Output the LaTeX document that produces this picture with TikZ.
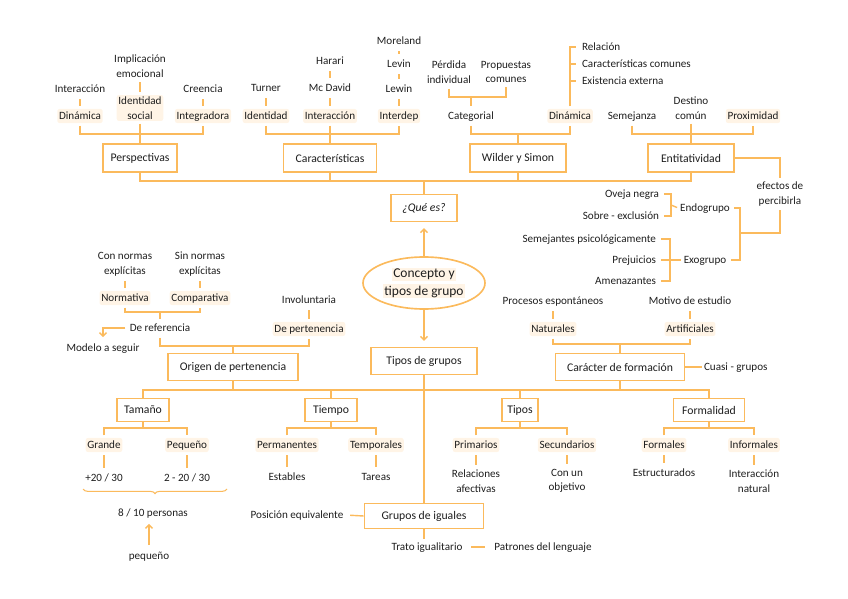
\documentclass[tikz,border=0pt]{standalone}
\usepackage{fontspec}
\setmainfont{Carlito}
\usetikzlibrary{arrows.meta,decorations.pathreplacing,shapes.geometric}
\definecolor{mapline}{RGB}{251,186,92}
\definecolor{mapmark}{RGB}{255,244,230}
\definecolor{maptext}{RGB}{30,30,30}
\setlength{\fboxsep}{1pt}

\begin{document}
\begin{tikzpicture}[
  x=0.03cm, y=-0.03cm,
  every node/.style={text=maptext,font=\fontsize{9.5}{12.5}\selectfont,inner sep=1.5pt},
  one/.style={text height=1.5ex,text depth=.4ex},
  two/.style={align=center},
  hl/.style={fill=mapmark,rounded corners=2pt},
  box/.style={draw=mapline,line width=1.4pt,fill=white,font=\fontsize{10}{12}\selectfont,
    inner xsep=2pt,minimum height=0.84cm},
  conn/.style={draw=mapline,line width=1.2pt},
  joint/.style={conn,shorten <=2.5pt,shorten >=2.5pt},
  brk/.style={conn,shorten <=2pt,shorten >=2pt},
  arr/.style={conn,-{Straight Barb[length=3pt,width=6pt]}}
]
\useasboundingbox (0,0) rectangle (848,599);

% Perspectivas
\node[one] (interP) at (80,89) {Interacción};
\node[one,hl] (dinP) at (80,116) {Dinámica};
\node[two] (implic) at (140,66) {Implicación\\emocional};
\node[two,hl] (idsoc) at (140,108) {Identidad\\social};
\node[one] (creencia) at (203,89) {Creencia};
\node[one,hl] (integ) at (203,116) {Integradora};
\node[box,minimum width=2.22cm] (persp) at (140,158) {Perspectivas};
\draw[joint] (interP.south) -- (dinP.north);
\draw[joint] (implic.south) -- (idsoc.north);
\draw[joint] (creencia.south) -- (integ.north);
\coordinate (barP) at (140,134);
\draw[brk] (dinP.south) |- (barP) -| (integ.south);
\draw[conn,shorten <=2pt] (idsoc.south) -- (persp.north);

% Caracteristicas
\node[one] (turner) at (266,88) {Turner};
\node[one,hl] (identC) at (266,116) {Identidad};
\node[one] (harari) at (330,61) {Harari};
\node[one] (mcdavid) at (330,88) {Mc David};
\node[one,hl] (interC) at (330,116) {Interacción};
\node[one] (moreland) at (399,41) {Moreland};
\node[one] (levin) at (399,64) {Levin};
\node[one] (lewin) at (399,89) {Lewin};
\node[one,hl] (interdep) at (399,116) {Interdep};
\node[box,minimum width=2.79cm] (caract) at (330,158) {Características};
\draw[joint] (turner.south) -- (identC.north);
\draw[joint] (harari.south) -- (mcdavid.north);
\draw[joint] (mcdavid.south) -- (interC.north);
\draw[joint] (moreland.south) -- (levin.north);
\draw[joint] (levin.south) -- (lewin.north);
\draw[joint] (lewin.south) -- (interdep.north);
\coordinate (barC) at (330,134);
\draw[brk] (identC.south) |- (barC) -| (interdep.south);
\draw[conn,shorten <=2pt] (interC.south) -- (caract.north);

% Wilder y Simon
\node[two] (perdida) at (449,72) {Pérdida\\individual};
\node[two] (propuestas) at (506,72) {Propuestas\\comunes};
\node[one] (categ) at (471,116) {Categorial};
\node[one,hl] (dinW) at (570,116) {Dinámica};
\node[one,anchor=west] (relacion) at (580,47) {Relación};
\node[one,anchor=west] (caractcom) at (580,64) {Características comunes};
\node[one,anchor=west] (existe) at (580,81) {Existencia externa};
\node[box,minimum width=2.88cm] (wilder) at (518,158) {Wilder y Simon};
\coordinate (barCat) at (471,97);
\draw[brk,shorten <=3pt] (perdida.south) |- (barCat) -| (propuestas.south);
\draw[conn,shorten >=2pt] (barCat) -- (categ.north);
\draw[conn,shorten <=2pt,shorten >=3pt] (dinW.north) |- (relacion.west);
\draw[conn,shorten >=3pt] (dinW.north |- caractcom.west) -- (caractcom.west);
\draw[conn,shorten >=3pt] (dinW.north |- existe.west) -- (existe.west);
\coordinate (barW) at (518,134);
\draw[brk] (categ.south) |- (barW) -| (dinW.south);
\draw[conn] (barW) -- (wilder.north);

% Entitatividad
\node[one] (semej) at (632,116) {Semejanza};
\node[two] (destino) at (691,108) {Destino\\común};
\node[one,hl] (proxim) at (753,116) {Proximidad};
\node[box,minimum width=2.58cm] (entit) at (691,158) {Entitatividad};
\coordinate (barE) at (691,134);
\draw[brk] (semej.south) |- (barE) -| (proxim.south);
\draw[conn,shorten <=2pt] (destino.south) -- (entit.north);

% Que es
\coordinate (topbar) at (424,181);
\draw[conn] (persp.south) |- (topbar) -| (entit.south);
\draw[conn] (caract.south) -- (caract.south |- topbar);
\draw[conn] (wilder.south) -- (wilder.south |- topbar);
\node[box,minimum width=1.98cm,minimum height=0.81cm,font=\fontsize{10}{12}\selectfont\itshape] (quees) at (424,208) {¿Qué es?};
\draw[conn] (topbar) -- (quees.north);

% efectos de percibirla
\node[two] (efectos) at (780,194) {efectos de\\percibirla};
\node[one] (endo) at (705,208) {Endogrupo};
\node[one] (exo) at (705,260) {Exogrupo};
\draw[conn,shorten >=2pt] (entit.east) -| (efectos.north);
\coordinate (endoexo) at (740,233);
\draw[conn,shorten <=2pt] (efectos.south) |- (endoexo);
\draw[conn,shorten <=2pt,shorten >=2pt] (endo.east) -| (endoexo) |- (exo.east);
\node[one,anchor=east] (oveja) at (661,194) {Oveja negra};
\node[one,anchor=east] (sobre) at (661,216) {Sobre - exclusión};
\coordinate (endobr) at (671,205);
\draw[conn,shorten <=2.5pt,shorten >=2.5pt] (oveja.east) -| (endobr) |- (sobre.east);
\draw[conn,shorten >=1pt] (endobr) -- (endo.west);
\node[one,anchor=east] (semps) at (658,239) {Semejantes psicológicamente};
\node[one,anchor=east] (prej) at (658,260) {Prejuicios};
\node[one,anchor=east] (amen) at (658,281) {Amenazantes};
\coordinate (exobr) at (670,260);
\draw[conn,shorten <=2.5pt,shorten >=2.5pt] (semps.east) -| (exobr) |- (amen.east);
\draw[conn,shorten <=2.5pt,shorten >=1pt] (prej.east) -- (exo.west);

% centre
\node[ellipse,draw=mapline,line width=1.4pt,fill=white,minimum width=3.66cm,minimum height=1.56cm,
  inner sep=0pt,align=center,font=\fontsize{11.5}{15}\selectfont] (concepto) at (424,283)
  {\colorbox{mapmark}{Concepto y}\\\colorbox{mapmark}{tipos de grupo}};
\node[box,minimum width=3.18cm,minimum height=0.81cm] (tipos) at (424,361) {Tipos de grupos};
\draw[arr,shorten >=5pt] (concepto.north) -- (quees.south);
\draw[arr,shorten >=5pt] (concepto.south) -- (tipos.north);

% Origen de pertenencia
\node[two] (conN) at (125,264) {Con normas\\explícitas};
\node[two] (sinN) at (200,264) {Sin normas\\explícitas};
\node[one,hl] (normat) at (125,298) {Normativa};
\node[one,hl] (compar) at (200,298) {Comparativa};
\draw[joint] (conN.south) -- (normat.north);
\draw[joint] (sinN.south) -- (compar.north);
\coordinate (barN) at (160,312);
\draw[brk] (normat.south) |- (barN) -| (compar.south);
\node[one] (deref) at (160,328) {De referencia};
\draw[conn,shorten >=1.5pt] (barN) -- (deref.north);
\node[one] (modelo) at (103,348) {Modelo a seguir};
\draw[arr,shorten <=2pt,shorten >=3pt] (deref.west) -| (modelo.north);
\node[one] (invol) at (309,300) {Involuntaria};
\node[one,hl] (depert) at (309,329) {De pertenencia};
\draw[joint] (invol.south) -- (depert.north);
\coordinate (barO) at (233,346);
\draw[brk] (deref.south) |- (barO) -| (depert.south);
\node[box,minimum width=3.9cm,minimum height=0.81cm] (origen) at (233,367) {Origen de pertenencia};
\draw[conn] (barO) -- (origen.north);

% Caracter de formacion
\node[one] (procesos) at (553,301) {Procesos espontáneos};
\node[one] (motivo) at (690,301) {Motivo de estudio};
\node[one,hl] (natur) at (553,329) {Naturales};
\node[one,hl] (artif) at (690,329) {Artificiales};
\draw[joint] (procesos.south) -- (natur.north);
\draw[joint] (motivo.south) -- (artif.north);
\coordinate (barF) at (620,344);
\draw[brk] (natur.south) |- (barF) -| (artif.south);
\node[box,minimum width=3.87cm,minimum height=0.81cm] (caracter) at (620,367) {Carácter de formación};
\draw[conn] (barF) -- (caracter.north);
\node[one,anchor=west] (cuasi) at (702,367) {Cuasi - grupos};
\draw[conn] (caracter.east) -- (cuasi.west);

% bottom row
\coordinate (botbar) at (424,390);
\node[box,minimum width=1.56cm,minimum height=0.69cm] (tamano) at (143,410) {Tamaño};
\node[box,minimum width=1.56cm,minimum height=0.69cm] (tiempo) at (331,410) {Tiempo};
\node[box,minimum width=1.08cm,minimum height=0.69cm] (tiposB) at (520,410) {Tipos};
\node[box,minimum width=2.13cm,minimum height=0.69cm] (formal) at (709,410) {Formalidad};
\node[box,minimum width=3.57cm,minimum height=0.75cm] (iguales) at (424,516) {Grupos de iguales};
\draw[conn] (tamano.north) |- (botbar) -| (formal.north);
\draw[conn] (tiempo.north) -- (tiempo.north |- botbar);
\draw[conn] (tiposB.north) -- (tiposB.north |- botbar);
\draw[conn] (origen.south) -- (origen.south |- botbar);
\draw[conn] (caracter.south) -- (caracter.south |- botbar);
\draw[conn] (tipos.south) -- (iguales.north);

% Tamano
\node[one,hl] (grande) at (104,445) {Grande};
\node[one,hl] (pequeno) at (187,445) {Pequeño};
\node[one] (mas20) at (104,478) {+20 / 30};
\node[one] (dos20) at (187,478) {2 - 20 / 30};
\coordinate (barTa) at (143,428);
\draw[brk] (grande.north) |- (barTa) -| (pequeno.north);
\draw[conn] (tamano.south) -- (barTa);
\draw[joint] (grande.south) -- (mas20.north);
\draw[joint] (pequeno.south) -- (dos20.north);
\coordinate (braceL) at (83,489);
\coordinate (braceR) at (227,489);
\draw[conn,line width=0.9pt,decorate,decoration={brace,mirror,amplitude=4pt}] (braceL) -- (braceR);
\node[one] (personas) at (153,513) {8 / 10 personas};
\node[one] (pequenoL) at (149,556) {pequeño};
\draw[arr,shorten <=3pt,shorten >=3pt] (pequenoL.north) -- (pequenoL.north |- personas.south);

% Tiempo
\node[one,hl] (perman) at (287,445) {Permanentes};
\node[one,hl] (tempor) at (376,445) {Temporales};
\node[one] (estab) at (287,477) {Estables};
\node[one] (tareas) at (376,477) {Tareas};
\coordinate (barTi) at (331,428);
\draw[brk] (perman.north) |- (barTi) -| (tempor.north);
\draw[conn] (tiempo.south) -- (barTi);
\draw[joint] (perman.south) -- (estab.north);
\draw[joint] (tempor.south) -- (tareas.north);

% Tipos
\node[one,hl] (prim) at (476,445) {Primarios};
\node[one,hl] (secun) at (567,445) {Secundarios};
\node[two] (relac) at (476,481) {Relaciones\\afectivas};
\node[two] (conun) at (567,481) {Con un\\objetivo};
\coordinate (barTp) at (520,428);
\draw[brk] (prim.north) |- (barTp) -| (secun.north);
\draw[conn] (tiposB.south) -- (barTp);
\draw[joint] (prim.south) -- (relac.north);
\draw[joint] (secun.south) -- (conun.north);

% Formalidad
\node[one,hl] (formales) at (664,445) {Formales};
\node[one,hl] (informales) at (754,445) {Informales};
\node[one] (estruct) at (664,473) {Estructurados};
\node[two] (internat) at (754,481) {Interacción\\natural};
\coordinate (barFo) at (709,428);
\draw[brk] (formales.north) |- (barFo) -| (informales.north);
\draw[conn] (formal.south) -- (barFo);
\draw[joint] (formales.south) -- (estruct.north);
\draw[joint] (informales.south) -- (internat.north);

% Grupos de iguales
\node[one] (posic) at (297,515) {Posición equivalente};
\node[one] (trato) at (427,547) {Trato igualitario};
\node[one] (patrones) at (543,547) {Patrones del lenguaje};
\draw[conn,shorten >=4pt] (iguales.west) -- (posic.east);
\draw[conn,shorten >=1pt] (iguales.south) -- (iguales.south |- trato.north);
\draw[conn,shorten <=6pt,shorten >=6pt] (trato.east) -- (patrones.west);
\end{tikzpicture}
\end{document}
